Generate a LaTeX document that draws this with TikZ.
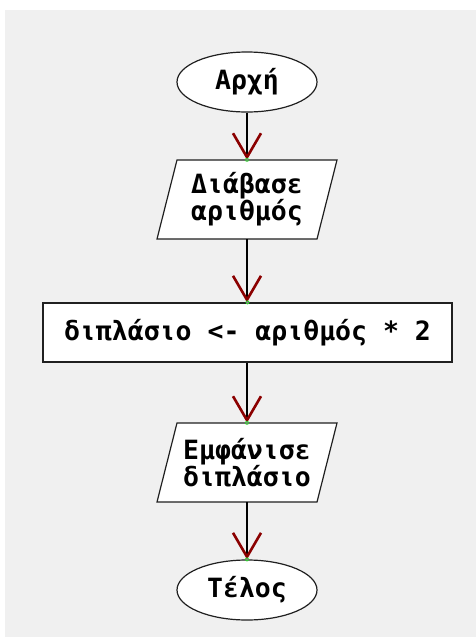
\documentclass[tikz,border=0pt]{standalone}
\usepackage{fontspec}
\newfontfamily\flowfont{DejaVu Sans Mono}
\usetikzlibrary{arrows.meta,shapes.geometric,calc}
\definecolor{bggrey}{HTML}{F0F0F0}
\definecolor{edge}{HTML}{202020}
\definecolor{tipred}{HTML}{8B0000}
\definecolor{dotgreen}{HTML}{33CC33}
\definecolor{dotmag}{HTML}{CC33CC}
\tikzset{
  txt/.style={font=\flowfont\bfseries\fontsize{26.5}{27}\selectfont, align=center, text=black, inner sep=0pt},
  term/.style={txt, ellipse, draw=edge, line width=1.2pt, fill=white, minimum width=140pt, minimum height=60pt},
  procbox/.style={txt, rectangle, draw=edge, line width=1.2pt, fill=white, minimum width=409pt, minimum height=59pt},
  iobox/.style={txt, rectangle, minimum width=160pt, minimum height=79pt},
  ioshape/.style={draw=edge, line width=1.2pt, fill=white},
  conn/.style={draw=black, line width=2.2pt, -{Straight Barb[length=24pt, width=28pt, line width=2.6pt, color=tipred]}},
  tipdot/.style={fill=dotgreen},
}
\begin{document}
\begin{tikzpicture}[x=1pt,y=-1pt]
\fill[white] (0,0) rectangle (476,637);
\fill[bggrey] (5,10) rectangle (476,637);
\useasboundingbox (0,0) rectangle (476,637);

% parallelogram outlines
\path[ioshape] (177,160) -- (337,160) -- (317,239) -- (157,239) -- cycle;
\path[ioshape] (177,423) -- (337,423) -- (317,502) -- (157,502) -- cycle;

\node[term] (start) at (247,82) {Αρχή};
\node[iobox] (read) at (247,199.5) {Διάβασε\\αριθμός};
\node[procbox] (calc) at (247.5,332.5) {διπλάσιο <- αριθμός * 2};
\node[iobox] (show) at (247,462.5) {Εμφάνισε\\διπλάσιο};
\node[term] (stop) at (247,590) {Τέλος};

\draw[conn] (start.south) -- (read.north);
\draw[conn] (read.south) -- (calc.north -| read.south);
\draw[conn] (calc.south -| show.north) -- (show.north);
\draw[conn] (show.south) -- (stop.north);

\foreach \n in {read.north, calc.north, show.north, stop.north}{
  \fill[tipdot] (\n) circle (2pt);
  \fill[dotmag] (\n) circle (0.8pt);
}
\end{tikzpicture}
\end{document}
